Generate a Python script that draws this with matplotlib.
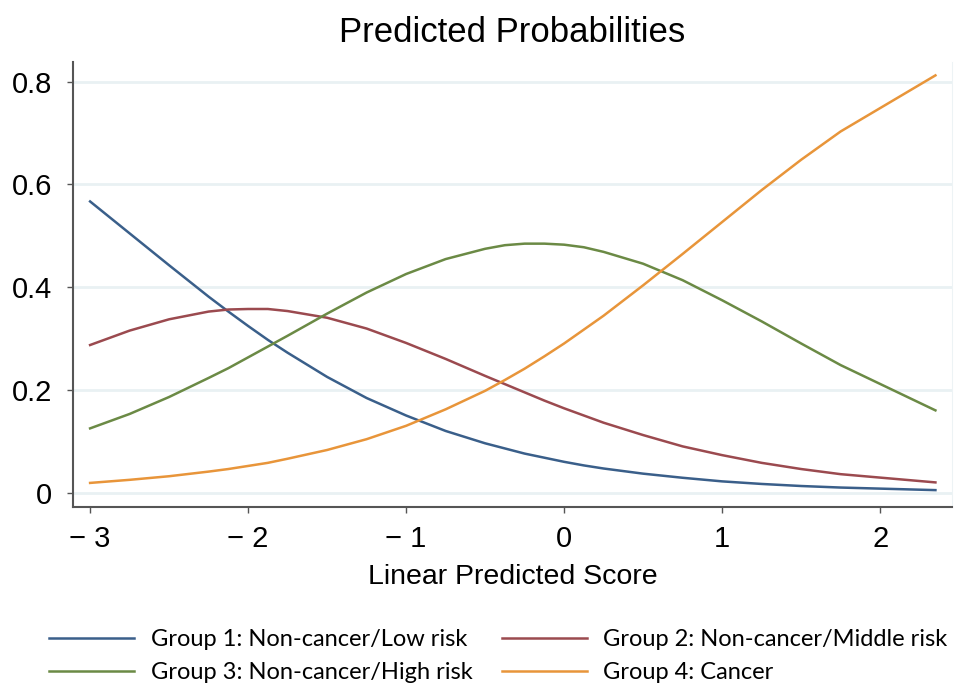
import matplotlib.pyplot as plt

# predicted probabilities by linear predicted score
score = [-3.0, -2.75, -2.5, -2.25, -2.125, -2.0, -1.875, -1.75, -1.5, -1.25, -1.0,
         -0.75, -0.5, -0.375, -0.25, -0.125, 0.0, 0.125, 0.25, 0.5, 0.75, 1.0,
         1.25, 1.5, 1.75, 2.35]
group1 = [0.567, 0.505, 0.443, 0.382, 0.353, 0.325, 0.298, 0.273, 0.226, 0.185, 0.151,
          0.121, 0.097, 0.087, 0.077, 0.069, 0.061, 0.054, 0.048, 0.038, 0.030, 0.023,
          0.018, 0.014, 0.011, 0.006]
group2 = [0.288, 0.316, 0.338, 0.353, 0.357, 0.358, 0.358, 0.354, 0.341, 0.320, 0.292,
          0.261, 0.228, 0.212, 0.196, 0.180, 0.165, 0.151, 0.137, 0.113, 0.091, 0.074,
          0.059, 0.047, 0.037, 0.021]
group3 = [0.126, 0.154, 0.187, 0.224, 0.243, 0.264, 0.285, 0.306, 0.349, 0.390, 0.426,
          0.455, 0.475, 0.482, 0.485, 0.485, 0.483, 0.478, 0.469, 0.446, 0.414, 0.375,
          0.334, 0.291, 0.249, 0.161]
group4 = [0.020, 0.026, 0.033, 0.042, 0.047, 0.053, 0.059, 0.067, 0.084, 0.105, 0.131,
          0.163, 0.199, 0.220, 0.242, 0.266, 0.291, 0.318, 0.345, 0.404, 0.465, 0.527,
          0.589, 0.648, 0.703, 0.812]

labels = ['Group 1: Non-cancer/Low risk', 'Group 2: Non-cancer/Middle risk',
          'Group 3: Non-cancer/High risk', 'Group 4: Cancer']
colors = ['#3a5f8a', '#9b4a4f', '#6b8a45', '#e8953a']

xticks = [-3, -2, -1, 0, 1, 2]
xticklabels = ['\u2212 3', '\u2212 2', '\u2212 1', '0', '1', '2']
yticks = [0, 0.2, 0.4, 0.6, 0.8]
yticklabels = ['0', '0.2', '0.4', '0.6', '0.8']

plt.rcParams['font.family'] = ['Liberation Sans', 'DejaVu Sans']

fig = plt.figure(figsize=(9.56, 6.89), dpi=100)
ax = fig.add_axes([0.0764, 0.264, 0.9196, 0.646])

for y in yticks:
    ax.axhline(y, color='#e9f1f3', lw=2, zorder=0)

series = [group1, group2, group3, group4]
handles = []
for s, lab, c in zip(series, labels, colors):
    h, = ax.plot(score, s, color=c, lw=1.8, label=lab)
    handles.append(h)

ax.set_xlim(-3.108, 2.456)
ax.set_ylim(-0.027, 0.838)
ax.set_xticks(xticks)
ax.set_xticklabels(xticklabels)
ax.set_yticks(yticks)
ax.set_yticklabels(yticklabels)
ax.tick_params(axis='both', labelsize=21, color='#555555', length=4, width=1)
ax.tick_params(axis='x', pad=9)
ax.tick_params(axis='y', pad=11)

for side in ['left', 'bottom']:
    ax.spines[side].set_color('#555555')
    ax.spines[side].set_linewidth(1.5)
ax.spines['top'].set_visible(False)
ax.spines['right'].set_color('#edf3f5')

fig.text(0.5355, 1 - 32 / 689, 'Predicted Probabilities', fontsize=25,
         ha='center', va='center')
ax.set_xlabel('Linear Predicted Score', fontsize=20.5, labelpad=8)

# legend reads row by row: groups 1 & 2 on top, 3 & 4 below
order = [0, 2, 1, 3]
fig.legend([handles[i] for i in order], [labels[i] for i in order],
           loc='center left', bbox_to_anchor=(49 / 956, 1 - 656 / 689), ncol=2,
           frameon=False, borderpad=0, borderaxespad=0,
           prop={'family': 'Lato', 'size': 17}, handlelength=3.6, handletextpad=0.7,
           columnspacing=1.25, labelspacing=0.5)

fig.savefig('out.png', dpi=100)
